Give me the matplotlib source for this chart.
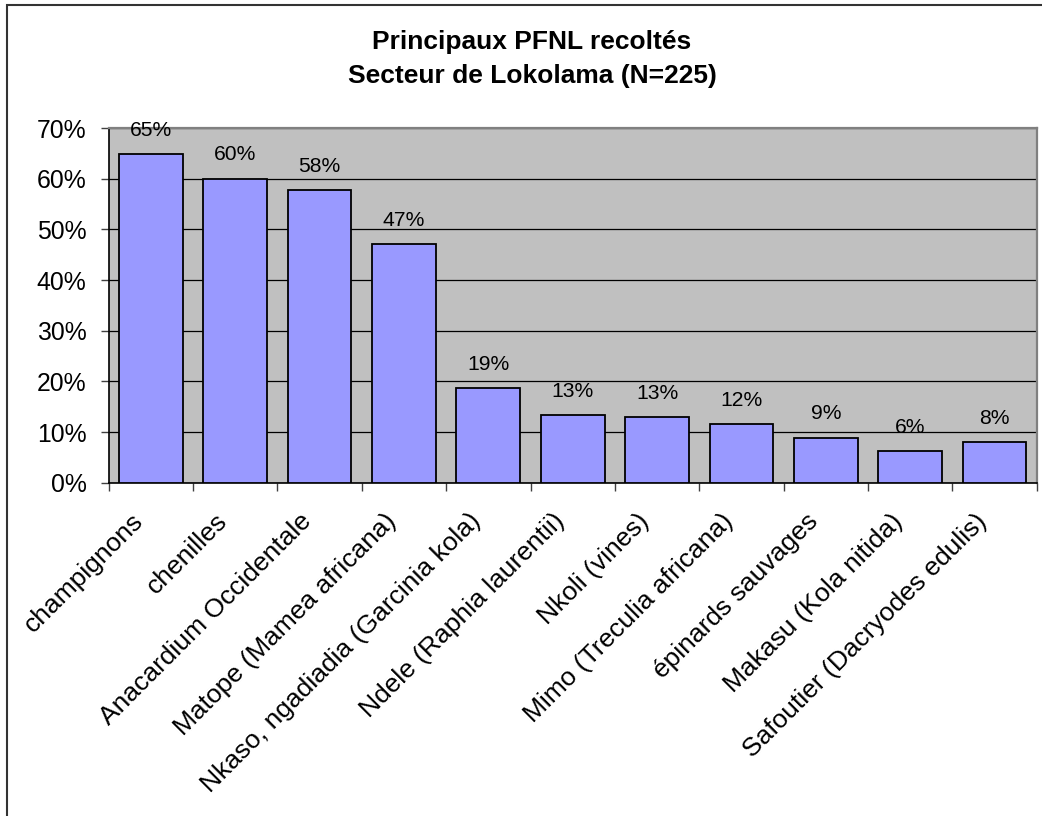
import numpy as np
import matplotlib
matplotlib.use("Agg")
import matplotlib.pyplot as plt
import matplotlib.transforms as mtransforms
from matplotlib.patches import Rectangle
from matplotlib.ticker import PercentFormatter

plt.rcParams["font.family"] = ["Liberation Sans", "DejaVu Sans"]

# Share of households harvesting each product (N=225)
products = [
    "champignons",
    "chenilles",
    "Anacardium Occidentale",
    "Matope (Mamea africana)",
    "Nkaso, ngadiadia (Garcinia kola)",
    "Ndele (Raphia laurentii)",
    "Nkoli (vines)",
    "Mimo (Treculia africana)",
    "épinards sauvages",
    "Makasu (Kola nitida)",
    "Safoutier (Dacryodes edulis)",
]
shares = [0.649, 0.600, 0.578, 0.471, 0.187, 0.133, 0.129, 0.116, 0.089, 0.062, 0.080]
y_ticks = [0.0, 0.1, 0.2, 0.3, 0.4, 0.5, 0.6, 0.7]
title_lines = ["Principaux PFNL recoltés", "Secteur de Lokolama (N=225)"]

fig = plt.figure(figsize=(10.42, 8.16), dpi=100)
ax = fig.add_axes([0.1043, 0.4085, 0.8906, 0.4346])
ax.set_facecolor("#C0C0C0")

x = np.arange(len(products))
ax.bar(x, shares, width=0.755, color="#9999FF", edgecolor="black",
       linewidth=1.3, zorder=3)

ax.set_xlim(-0.5, len(products) - 0.5)
ax.set_ylim(0, 0.7)
ax.set_yticks(y_ticks)
ax.yaxis.set_major_formatter(PercentFormatter(1.0, decimals=0))
ax.yaxis.grid(True, color="black", linewidth=0.9)
ax.set_axisbelow(True)

# y axis ticks and labels
ax.tick_params(axis="y", direction="out", length=6, width=1, color="#404040",
               labelsize=17.8, pad=10)

# category labels at bar centres, tick marks between categories
ax.set_xticks(x)
ax.set_xticks(np.arange(len(products) + 1) - 0.5, minor=True)
ax.tick_params(axis="x", which="major", length=0, pad=19, labelsize=19)
ax.tick_params(axis="x", which="minor", direction="out", length=6, width=1,
               color="#404040")
ax.set_xticklabels(products, rotation=45, ha="right", va="top",
                   rotation_mode="anchor")
shift = mtransforms.ScaledTranslation(-20 / 100, 0, fig.dpi_scale_trans)
for lab in ax.get_xticklabels():
    lab.set_transform(lab.get_transform() + shift)

# value labels above the bars
for xi, v in zip(x, shares):
    ax.annotate(f"{v:.0%}", (xi, v), xytext=(0, 13.2),
                textcoords="offset points", ha="center", va="baseline",
                fontsize=15.2, zorder=4)

for side in ["top", "right"]:
    ax.spines[side].set_color("#808080")
    ax.spines[side].set_linewidth(1.6)
for side in ["left", "bottom"]:
    ax.spines[side].set_color("black")
    ax.spines[side].set_linewidth(1.2)

fig.text(0.5106, 0.9275, "\n".join(title_lines), ha="center", va="center",
         fontsize=19, fontweight="bold", linespacing=1.5)

# chart frame
fig.patches.append(Rectangle((6.7 / 1042, -0.1), 1.2, 1 - 4.7 / 816 + 0.1,
                             transform=fig.transFigure, fill=False,
                             edgecolor="#333333", linewidth=1.5, clip_on=False))

fig.savefig("out.png", dpi=100)
